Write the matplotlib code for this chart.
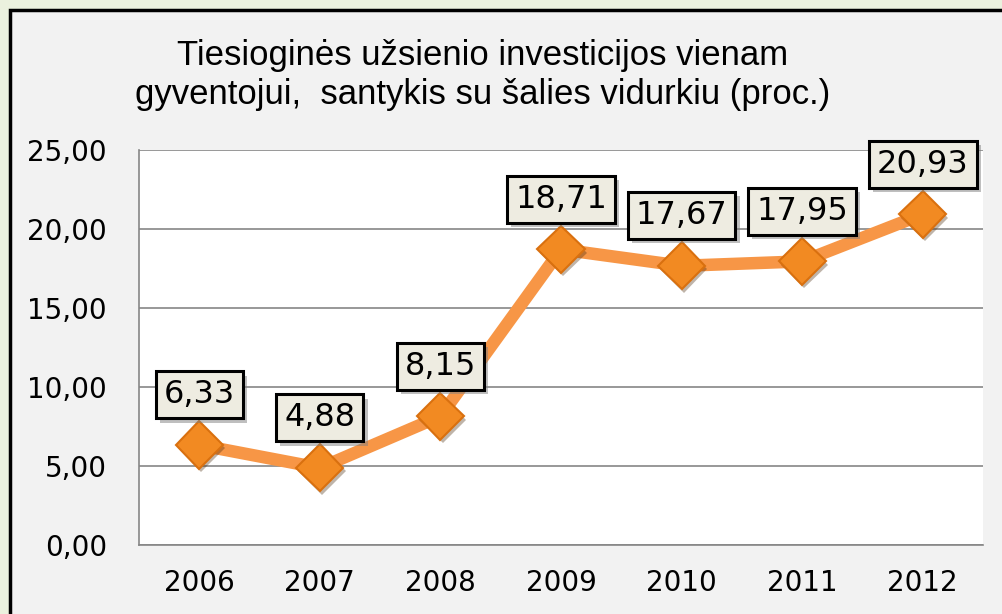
import matplotlib.pyplot as plt
import matplotlib.patheffects as pe
from matplotlib.patches import Rectangle
from matplotlib.ticker import FuncFormatter

years = ['2006', '2007', '2008', '2009', '2010', '2011', '2012']
values = [6.33, 4.88, 8.15, 18.71, 17.67, 17.95, 20.93]
title = 'Tiesioginės užsienio investicijos vienam\ngyventojui,  santykis su šalies vidurkiu (proc.)'

plt.rcParams['font.family'] = ['DejaVu Sans']

fig = plt.figure(figsize=(10.03, 6.14), dpi=100, facecolor='#ebf1de')

# chart frame (runs off the right and bottom edges)
frame = Rectangle((10/1003, -0.1), 1.2, 1 - 10/614 + 0.1, transform=fig.transFigure,
                  facecolor='#f2f2f2', edgecolor='black', linewidth=2.5, zorder=-1)
fig.patches.append(frame)

fig.text(0.481, 1 - 75/614, title, ha='center', va='center', fontsize=25, linespacing=1.2,
         family=['Liberation Sans', 'DejaVu Sans'])

ax = fig.add_axes([139/1003, 1 - 545/614, (983 - 139)/1003, (545 - 150)/614])
ax.set_zorder(2)
ax.set_facecolor('white')

x = range(len(years))
ax.plot(x, values, color='#f79646', linewidth=9, solid_joinstyle='round', zorder=3)
ax.plot(x, values, linestyle='none', zorder=4,
        marker='D', markersize=24, markerfacecolor='#f28a22', markeredgecolor='#d9700f',
        markeredgewidth=1.5,
        path_effects=[pe.SimplePatchShadow(offset=(1.5, -2.5), alpha=0.35), pe.Normal()])

for i, v in enumerate(values):
    t = ax.annotate(f'{v:.2f}'.replace('.', ','), (i, v), xytext=(0, 36),
                    textcoords='offset points', ha='center', va='center', fontsize=23,
                    bbox=dict(boxstyle='square,pad=0.25', facecolor='#eeece1',
                              edgecolor='black', linewidth=2.2), zorder=5)
    t.get_bbox_patch().set_path_effects([
        pe.SimplePatchShadow(offset=(3, -3), shadow_rgbFace='gray', alpha=0.5), pe.Normal()])

ax.set_xlim(-0.5, len(years) - 0.5)
ax.set_ylim(0, 25)
ax.set_yticks([0, 5, 10, 15, 20, 25])
ax.yaxis.set_major_formatter(FuncFormatter(lambda v, p: f'{v:.2f}'.replace('.', ',')))
ax.set_xticks(list(x))
ax.set_xticklabels(years)
ax.grid(axis='y', color='#868686', linewidth=1.2)
ax.set_axisbelow(True)
for s in ['top', 'right']:
    ax.spines[s].set_visible(False)
for s in ['left', 'bottom']:
    ax.spines[s].set_color('#868686')
    ax.spines[s].set_linewidth(1.2)
ax.tick_params(axis='both', length=0, labelsize=20)
ax.tick_params(axis='y', pad=23)
ax.tick_params(axis='x', pad=17)

fig.savefig('out.png', dpi=100, facecolor=fig.get_facecolor())
